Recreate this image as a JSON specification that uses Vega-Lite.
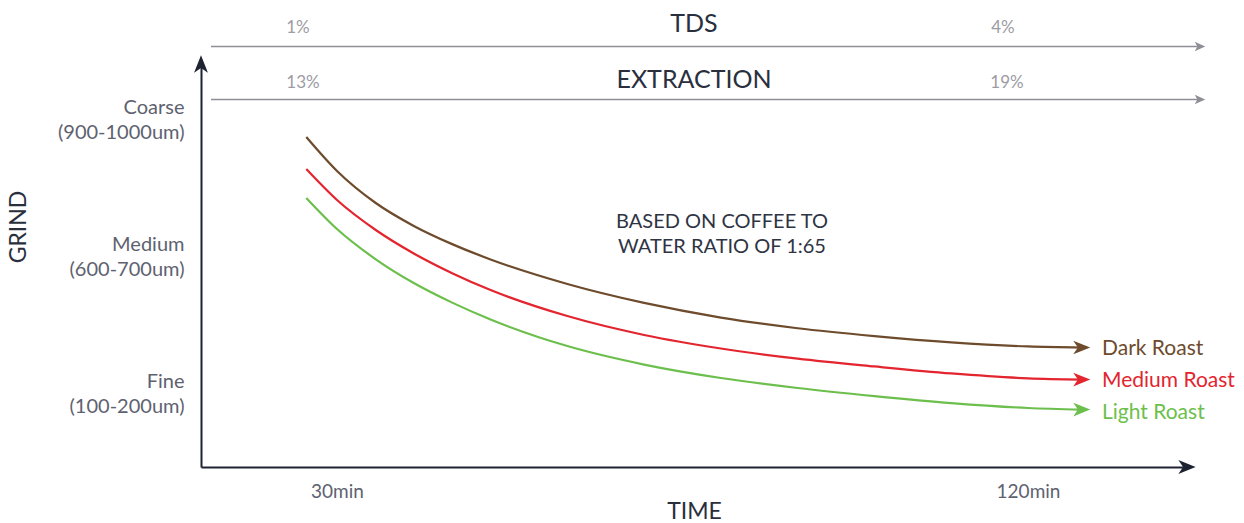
{
  "$schema": "https://vega.github.io/schema/vega-lite/v6.json",
  "width": 986,
  "height": 403,
  "autosize": "none",
  "padding": {"left": 201, "top": 64, "right": 57, "bottom": 56},
  "background": "white",
  "config": {"view": {"stroke": null}, "font": "Lato"},
  "datasets": {
    "curves": [
      {"roast": "Dark Roast", "minute": 26, "grind": 2.876},
      {"roast": "Dark Roast", "minute": 30, "grind": 2.628},
      {"roast": "Dark Roast", "minute": 35, "grind": 2.396},
      {"roast": "Dark Roast", "minute": 40, "grind": 2.227},
      {"roast": "Dark Roast", "minute": 45, "grind": 2.094},
      {"roast": "Dark Roast", "minute": 50, "grind": 1.982},
      {"roast": "Dark Roast", "minute": 60, "grind": 1.803},
      {"roast": "Dark Roast", "minute": 70, "grind": 1.665},
      {"roast": "Dark Roast", "minute": 80, "grind": 1.558},
      {"roast": "Dark Roast", "minute": 90, "grind": 1.48},
      {"roast": "Dark Roast", "minute": 100, "grind": 1.423},
      {"roast": "Dark Roast", "minute": 110, "grind": 1.377},
      {"roast": "Dark Roast", "minute": 120, "grind": 1.347},
      {"roast": "Dark Roast", "minute": 127, "grind": 1.339},
      {"roast": "Medium Roast", "minute": 26, "grind": 2.642},
      {"roast": "Medium Roast", "minute": 30, "grind": 2.416},
      {"roast": "Medium Roast", "minute": 35, "grind": 2.199},
      {"roast": "Medium Roast", "minute": 40, "grind": 2.026},
      {"roast": "Medium Roast", "minute": 45, "grind": 1.882},
      {"roast": "Medium Roast", "minute": 50, "grind": 1.759},
      {"roast": "Medium Roast", "minute": 60, "grind": 1.569},
      {"roast": "Medium Roast", "minute": 70, "grind": 1.431},
      {"roast": "Medium Roast", "minute": 80, "grind": 1.332},
      {"roast": "Medium Roast", "minute": 90, "grind": 1.258},
      {"roast": "Medium Roast", "minute": 100, "grind": 1.201},
      {"roast": "Medium Roast", "minute": 110, "grind": 1.15},
      {"roast": "Medium Roast", "minute": 120, "grind": 1.114},
      {"roast": "Medium Roast", "minute": 127, "grind": 1.105},
      {"roast": "Light Roast", "minute": 26, "grind": 2.431},
      {"roast": "Light Roast", "minute": 30, "grind": 2.204},
      {"roast": "Light Roast", "minute": 35, "grind": 1.985},
      {"roast": "Light Roast", "minute": 40, "grind": 1.81},
      {"roast": "Light Roast", "minute": 45, "grind": 1.667},
      {"roast": "Light Roast", "minute": 50, "grind": 1.544},
      {"roast": "Light Roast", "minute": 60, "grind": 1.35},
      {"roast": "Light Roast", "minute": 70, "grind": 1.215},
      {"roast": "Light Roast", "minute": 80, "grind": 1.117},
      {"roast": "Light Roast", "minute": 90, "grind": 1.044},
      {"roast": "Light Roast", "minute": 100, "grind": 0.985},
      {"roast": "Light Roast", "minute": 110, "grind": 0.934},
      {"roast": "Light Roast", "minute": 120, "grind": 0.898},
      {"roast": "Light Roast", "minute": 127, "grind": 0.886}
    ],
    "ends": [
      {"roast": "Dark Roast", "minute": 127, "grind": 1.339, "labelMinute": 129.64, "labelGrind": 1.328},
      {"roast": "Medium Roast", "minute": 127, "grind": 1.105, "labelMinute": 129.64, "labelGrind": 1.095},
      {"roast": "Light Roast", "minute": 127, "grind": 0.886, "labelMinute": 129.64, "labelGrind": 0.861}
    ],
    "scales": [
      {"name": "TDS", "start": 13.59, "end": 142.14, "tip": 142.4, "level": 3.5365, "titleGrind": 3.70, "lo": "1%", "hi": "4%", "loMinute": 24.92, "hiMinute": 116.74, "valueGrind": 3.672},
      {"name": "EXTRACTION", "start": 13.59, "end": 142.14, "tip": 142.4, "level": 3.1496, "titleGrind": 3.292, "lo": "13%", "hi": "19%", "loMinute": 25.57, "hiMinute": 117.26, "valueGrind": 3.27}
    ]
  },
  "layer": [
    {
      "data": {"name": "curves"},
      "mark": {"type": "line", "interpolate": "monotone", "strokeWidth": 2.2},
      "encoding": {
        "x": {
          "field": "minute", "type": "quantitative",
          "scale": {"domain": [12.287, 140.708], "nice": false, "zero": false},
          "axis": {
            "values": [30, 120], "labelExpr": "datum.value + 'min'",
            "ticks": false, "tickSize": 0, "labelPadding": 24, "labelBaseline": "middle",
            "labelFontSize": 19, "labelColor": "#5e6270", "labelFlush": false,
            "domainColor": "#1e2332", "domainWidth": 2, "grid": false,
            "title": "TIME", "titleFontSize": 23, "titleFontWeight": "normal", "titleColor": "#2a2f3d",
            "titleX": 493, "titleY": 44, "titleBaseline": "middle", "titleAlign": "center"
          }
        },
        "y": {
          "field": "grind", "type": "quantitative",
          "scale": {"domain": [0.4672, 3.4088], "nice": false, "zero": false},
          "axis": {
            "values": [1, 2, 3],
            "labelExpr": "datum.value == 3 ? ['Coarse','(900-1000um)'] : (datum.value == 2 ? ['Medium','(600-700um)'] : ['Fine','(100-200um)'])",
            "ticks": false, "tickSize": 0, "labelPadding": 17, "labelAlign": "right", "labelBaseline": "middle",
            "labelOffset": -12.5,
            "labelLineHeight": 25, "labelFontSize": 20, "labelColor": "#5e6270", "labelOverlap": false,
            "domainColor": "#1e2332", "domainWidth": 2, "grid": false,
            "title": "GRIND", "titleFontSize": 23, "titleFontWeight": "normal", "titleColor": "#2a2f3d",
            "titleX": -183, "titleY": 162.5, "titleAngle": 270, "titleBaseline": "middle", "titleAlign": "center"
          }
        },
        "color": {
          "field": "roast", "type": "nominal",
          "scale": {"domain": ["Dark Roast", "Medium Roast", "Light Roast"], "range": ["#6d4b2c", "#e3252f", "#6cbf4c"]},
          "legend": null
        },
        "detail": {"field": "roast"}
      }
    },
    {
      "data": {"name": "ends"},
      "mark": {"type": "point", "shape": "M-1,-0.8L1,0L-1,0.8L-0.45,0Z", "filled": true, "size": 289, "opacity": 1, "strokeWidth": 0},
      "encoding": {
        "x": {"field": "minute", "type": "quantitative"},
        "y": {"field": "grind", "type": "quantitative"},
        "color": {"field": "roast", "type": "nominal", "legend": null}
      }
    },
    {
      "data": {"name": "ends"},
      "mark": {"type": "text", "align": "left", "baseline": "middle", "fontSize": 21},
      "encoding": {
        "x": {"field": "labelMinute", "type": "quantitative"},
        "y": {"field": "labelGrind", "type": "quantitative"},
        "text": {"field": "roast"},
        "color": {"field": "roast", "type": "nominal", "legend": null}
      }
    },
    {
      "data": {"values": [{}]},
      "mark": {"type": "point", "shape": "M-1,-0.8L1,0L-1,0.8L-0.45,0Z", "filled": true, "size": 300, "opacity": 1, "color": "#1e2332", "strokeWidth": 0},
      "encoding": {
        "x": {"datum": 140.708, "type": "quantitative"},
        "y": {"datum": 0.4672, "type": "quantitative"}
      }
    },
    {
      "data": {"values": [{}]},
      "mark": {"type": "point", "shape": "M-1,-0.8L1,0L-1,0.8L-0.45,0Z", "filled": true, "size": 300, "opacity": 1, "color": "#1e2332", "strokeWidth": 0, "angle": 270},
      "encoding": {
        "x": {"datum": 12.287, "type": "quantitative"},
        "y": {"datum": 3.4088, "type": "quantitative"}
      }
    },
    {
      "data": {"name": "scales"},
      "mark": {"type": "rule", "color": "#8e8e96", "strokeWidth": 1.6},
      "encoding": {
        "x": {"field": "start", "type": "quantitative"},
        "x2": {"field": "end"},
        "y": {"field": "level", "type": "quantitative"}
      }
    },
    {
      "data": {"name": "scales"},
      "mark": {"type": "point", "shape": "M-1,-0.9L1,0L-1,0.9L-0.5,0Z", "filled": true, "size": 110, "opacity": 1, "color": "#8e8e96", "strokeWidth": 0},
      "encoding": {
        "x": {"field": "tip", "type": "quantitative"},
        "y": {"field": "level", "type": "quantitative"}
      }
    },
    {
      "data": {"name": "scales"},
      "mark": {"type": "text", "align": "center", "baseline": "middle", "fontSize": 25, "color": "#2a2f3d"},
      "encoding": {
        "x": {"datum": 76.5, "type": "quantitative"},
        "y": {"field": "titleGrind", "type": "quantitative"},
        "text": {"field": "name"}
      }
    },
    {
      "data": {"name": "scales"},
      "mark": {"type": "text", "align": "center", "baseline": "middle", "fontSize": 17, "color": "#9c9ca4"},
      "encoding": {
        "x": {"field": "loMinute", "type": "quantitative"},
        "y": {"field": "valueGrind", "type": "quantitative"},
        "text": {"field": "lo"}
      }
    },
    {
      "data": {"name": "scales"},
      "mark": {"type": "text", "align": "center", "baseline": "middle", "fontSize": 17, "color": "#9c9ca4"},
      "encoding": {
        "x": {"field": "hiMinute", "type": "quantitative"},
        "y": {"field": "valueGrind", "type": "quantitative"},
        "text": {"field": "hi"}
      }
    },
    {
      "data": {"values": [{"note": "BASED ON COFFEE TO\nWATER RATIO OF 1:65", "minute": 80.14, "grind": 2.252}]},
      "mark": {"type": "text", "align": "center", "baseline": "middle", "fontSize": 20, "lineHeight": 25, "lineBreak": "\n", "color": "#2f3443"},
      "encoding": {
        "x": {"field": "minute", "type": "quantitative"},
        "y": {"field": "grind", "type": "quantitative"},
        "text": {"field": "note"}
      }
    }
  ]
}
